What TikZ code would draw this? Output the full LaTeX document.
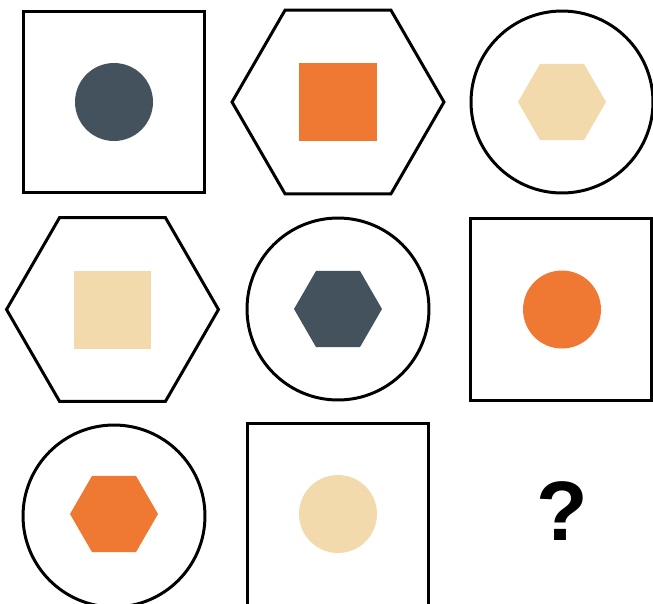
\documentclass[tikz,border=0pt]{standalone}
\usepackage{fontspec}
\setsansfont{Liberation Sans}
\usetikzlibrary{shapes.geometric}
\definecolor{slate}{RGB}{68,82,94}
\definecolor{tangerine}{RGB}{239,120,51}
\definecolor{sand}{RGB}{243,218,172}
\begin{document}
\begin{tikzpicture}[x=0.02cm,y=-0.02cm,
    frame/.style={draw=black,line width=1.7pt,inner sep=0pt},
    sqframe/.style={frame,rectangle,minimum size=3.64cm},
    hexframe/.style={frame,regular polygon,regular polygon sides=6,minimum size=4.24cm},
    ringframe/.style={frame,circle,minimum size=3.64cm},
    dot/.style={circle,inner sep=0pt,minimum size=1.56cm},
    tile/.style={rectangle,inner sep=0pt,minimum size=1.56cm},
    hexmark/.style={regular polygon,regular polygon sides=6,inner sep=0pt,minimum size=1.76cm}]
  \useasboundingbox (0,0) rectangle (653,603);
  % row 1
  \node[sqframe] (frameA) at (114,102) {};
  \node[dot,fill=slate] (markA) at (114,102) {};
  \node[hexframe] (frameB) at (338,102) {};
  \node[tile,fill=tangerine] (markB) at (338,102) {};
  \node[ringframe] (frameC) at (562,102) {};
  \node[hexmark,fill=sand] (markC) at (562,102) {};
  % row 2
  \node[hexframe] (frameD) at (112.5,309.5) {};
  \node[tile,fill=sand] (markD) at (112.5,309.5) {};
  \node[ringframe] (frameE) at (338,309) {};
  \node[hexmark,fill=slate] (markE) at (338,309) {};
  \node[sqframe] (frameF) at (561,309.5) {};
  \node[dot,fill=tangerine] (markF) at (562,309.5) {};
  % row 3
  \node[ringframe] (frameG) at (114,516) {};
  \node[hexmark,fill=tangerine] (markG) at (114,514) {};
  \node[sqframe] (frameH) at (338,514) {};
  \node[dot,fill=sand] (markH) at (338,514) {};
  \node[font=\sffamily\bfseries\fontsize{48}{48}\selectfont] (query) at (562,511) {?};
\end{tikzpicture}
\end{document}
